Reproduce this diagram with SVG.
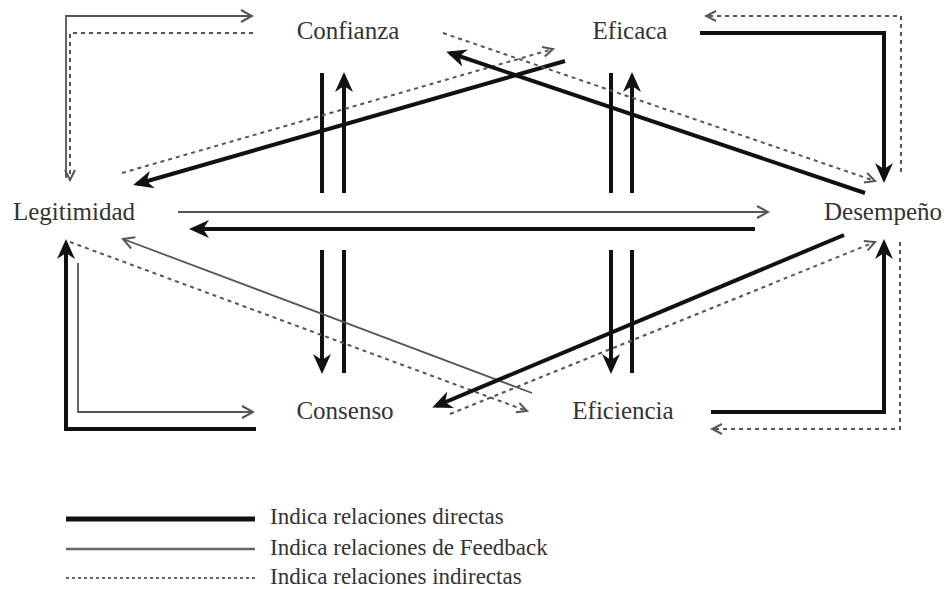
<svg xmlns="http://www.w3.org/2000/svg" width="948" height="589" viewBox="0 0 948 589">
<style>
text{font-family:'Liberation Serif','DejaVu Serif','Times New Roman',serif;fill:#333;}
.lbl{font-size:25px;text-anchor:middle;}
.leg{font-size:23px;}
.d{stroke:#111;stroke-width:4;fill:none;}
.f{stroke:#555;stroke-width:1.8;fill:none;}
.i{stroke:#555;stroke-width:2;fill:none;stroke-dasharray:4 4;}
.da{marker-end:url(#mh);}
.fa{marker-end:url(#mo);}
.ia{marker-end:url(#mi);}
</style>
<defs>
<marker id="mh" markerUnits="userSpaceOnUse" markerWidth="20" markerHeight="18" viewBox="0 0 20 18" refX="16" refY="9" orient="auto">
<path d="M0,0 L20,9 L0,18 L6,9 z" fill="#111"/>
</marker>
<marker id="mo" markerUnits="userSpaceOnUse" markerWidth="14" markerHeight="14" viewBox="0 0 14 14" refX="12" refY="7" orient="auto">
<path d="M1,1 L12,7 L1,13" fill="none" stroke="#555" stroke-width="2"/>
</marker>
<marker id="mi" markerUnits="userSpaceOnUse" markerWidth="14" markerHeight="14" viewBox="0 0 14 14" refX="12" refY="7" orient="auto">
<path d="M2,2 L12,7 L2,12" fill="none" stroke="#555" stroke-width="2"/>
</marker>
</defs>
<g id="confianza"><text class="lbl" x="348" y="39" font-family="Liberation Serif">Confianza</text></g>
<g id="eficaca"><text class="lbl" x="630" y="39">Eficaca</text></g>
<g id="legitimidad"><text class="lbl" x="74" y="220">Legitimidad</text></g>
<g id="desempeno"><text class="lbl" x="883" y="220">Desempeño</text></g>
<g id="consenso"><text class="lbl" x="345" y="419">Consenso</text></g>
<g id="eficiencia"><text class="lbl" x="623" y="419">Eficiencia</text></g>
<g id="connectors">
<path class="f fa" d="M66,178 L66,16 L252,16"/>
<path class="i ia" d="M253,33 L70,33 L70,180"/>
<path class="d da" d="M700,33 L884,33 L884,179"/>
<path class="i ia" d="M901,172 L901,16 L706,16"/>
<path class="d da" d="M711,412 L884,412 L884,243"/>
<path class="i ia" d="M900,242 L900,429 L712,429"/>
<path class="d da" d="M256,429 L66,429 L66,243"/>
<path class="f fa" d="M78,263 L78,412 L253,412"/>
<line class="d" x1="322" y1="73" x2="322" y2="193"/>
<path class="d da" d="M344,193 L344,76"/>
<line class="d" x1="611" y1="73" x2="611" y2="193"/>
<path class="d da" d="M632,193 L632,76"/>
<path class="d da" d="M322,250 L322,370"/>
<line class="d" x1="344" y1="250" x2="344" y2="373"/>
<path class="d da" d="M611,250 L611,370"/>
<line class="d" x1="632" y1="250" x2="632" y2="373"/>
<path class="f fa" d="M178,212 L768,212"/>
<path class="d da" d="M755,229 L193,229"/>
<path class="d da" d="M565,61 L137,184"/>
<path class="i ia" d="M122,173 L553,49"/>
<path class="d da" d="M865,193 L450,53"/>
<path class="i ia" d="M443,33 L875,181"/>
<path class="f fa" d="M532,393 L123,239"/>
<path class="i ia" d="M70,242 L527,411"/>
<path class="d da" d="M844,235 L436,406"/>
<path class="i ia" d="M450,414 L875,242"/>
</g>
<g id="legend">
<line x1="66" y1="519" x2="255" y2="519" stroke="#111" stroke-width="5"/>
<line x1="66" y1="549" x2="255" y2="549" stroke="#666" stroke-width="2.5"/>
<line x1="66" y1="578" x2="255" y2="578" stroke="#666" stroke-width="2" stroke-dasharray="3 3"/>
<text class="leg" x="270" y="524">Indica relaciones directas</text>
<text class="leg" x="270" y="555">Indica relaciones de Feedback</text>
<text class="leg" x="270" y="584">Indica relaciones indirectas</text>
</g>
</svg>
